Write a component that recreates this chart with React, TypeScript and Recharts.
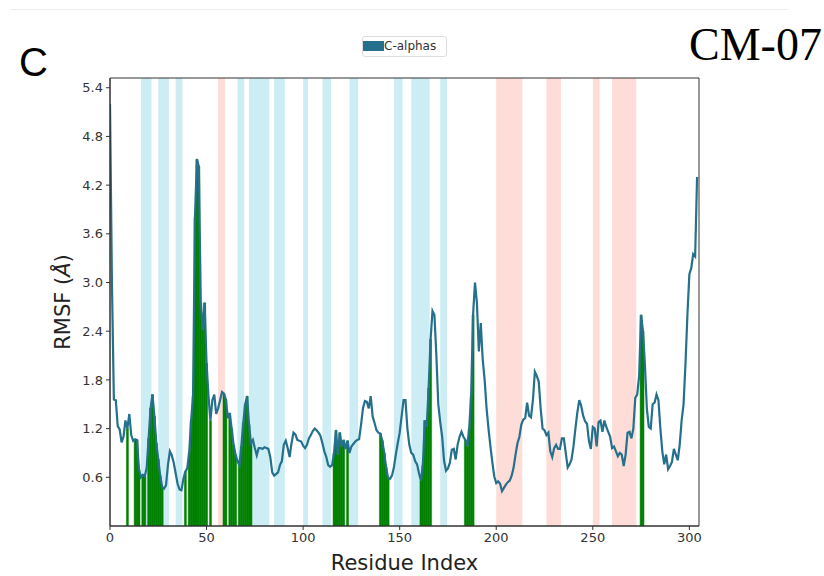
import {
  ComposedChart,
  Line,
  Bar,
  XAxis,
  YAxis,
  ReferenceArea,
} from "recharts"

// C-alpha RMSF per residue (index 0..304)
const rmsf = [
  5.2, 3.0, 1.56, 1.55, 1.23, 1.19, 1.03, 1.1, 1.3, 1.2,
  1.38, 1.12, 1.05, 1.07, 1.06, 0.7, 0.6, 0.63, 0.61, 0.72,
  1.08, 1.45, 1.62, 1.35, 1.02, 0.82, 0.62, 0.48, 0.46, 0.5,
  0.75, 0.92, 0.87, 0.78, 0.65, 0.52, 0.45, 0.44, 0.58, 0.67,
  0.71, 0.9, 1.3, 1.6, 3.8, 4.52, 4.43, 2.75, 2.42, 2.75,
  2.0, 1.6, 1.3, 1.55, 1.62, 1.38, 1.45, 1.55, 1.65, 1.63,
  1.56, 1.33, 1.39, 1.2, 1.0, 0.88, 0.8, 0.75, 0.98, 1.27,
  1.5, 1.6, 1.25, 1.02, 1.06, 0.96, 0.87, 0.96, 0.96, 0.95,
  0.97, 0.96, 0.95, 0.85, 0.66, 0.62, 0.64, 0.66, 0.75, 0.8,
  1.0, 1.05, 0.96, 0.85, 1.02, 1.15, 1.13, 1.06, 1.05, 1.04,
  0.99, 0.96, 1.0, 1.08, 1.12, 1.17, 1.2, 1.18, 1.15, 1.11,
  1.02, 0.92, 0.85, 0.75, 0.73, 0.75, 0.9, 1.18, 0.88, 1.15,
  0.98, 1.06, 0.95, 1.05, 0.9, 0.98, 1.01, 1.04, 1.06, 1.07,
  1.25, 1.45, 1.54, 1.53, 1.45, 1.6, 1.35, 1.27, 1.18, 1.15,
  1.14, 1.05, 0.9, 0.72, 0.59, 0.58, 0.62, 0.72, 0.88, 1.02,
  1.15, 1.35, 1.55, 1.55, 1.2, 1.0, 0.9, 0.88, 0.8, 0.76,
  0.65, 0.56, 0.75, 1.3, 1.22, 1.7, 2.3, 2.65, 2.6, 2.1,
  1.5, 1.28, 1.1, 0.8, 0.68, 0.71, 0.78, 0.94, 0.95, 0.82,
  1.0, 1.1, 1.16, 1.1, 1.06, 0.98, 1.2, 1.6, 2.6, 3.0,
  2.75, 2.15, 2.5, 2.05, 1.8, 1.45, 1.2, 0.98, 0.78, 0.61,
  0.53, 0.55, 0.52, 0.43, 0.47, 0.51, 0.54, 0.56, 0.62, 0.72,
  0.88, 1.02, 1.1, 1.25, 1.31, 1.33, 1.52, 1.36, 1.34, 1.55,
  1.9, 1.85, 1.78, 1.45, 1.2, 1.18, 1.12, 1.15, 0.92, 0.85,
  0.96, 1.0, 0.95, 0.95, 1.08, 1.08, 0.9, 0.72, 0.76, 0.82,
  0.98, 1.2, 1.4, 1.55, 1.48, 1.36, 1.29, 1.26, 1.05, 0.95,
  1.22, 1.2, 0.98, 1.28, 1.3, 1.16, 1.3, 1.22, 1.16, 1.1,
  0.96, 0.98, 0.92, 0.86, 0.9, 0.88, 0.74, 0.88, 1.15, 1.16,
  1.08, 1.2, 1.58, 1.62, 1.85, 2.6, 2.4, 1.98, 1.45, 1.22,
  1.2, 1.5, 1.52, 1.62, 1.55, 1.2, 0.92, 0.76, 0.88, 0.7,
  0.74, 0.79, 0.95, 0.88, 0.81, 1.0, 1.3, 1.5, 2.0, 2.6,
  3.1, 3.18, 3.35, 3.32, 4.3,
]

// residues in contact (green bars)
const contactResidues = [
  9, 13, 14, 15, 17, 18, 20, 21, 22, 23, 24, 25, 26, 27,
  39, 41, 42, 43, 44, 45, 46, 47, 48, 49, 50, 52,
  59, 60, 62, 63, 64, 65, 67, 68, 69, 70, 71, 72, 73,
  116, 117, 118, 119, 120, 121, 123,
  140, 141, 142, 143, 144,
  161, 162, 163, 164, 165, 166,
  184, 185, 186, 187, 188,
  275, 276,
]

// secondary structure spans (residue ranges)
const helixSpans = [
  [16, 21.5], [25, 30.5], [34, 37.5], [66, 69.5], [72, 82.5], [85, 90.5],
  [100, 102.5], [110, 114.5], [124, 128.5], [147, 151.5], [156, 165.5], [171, 174.5],
]
const strandSpans = [
  [56, 59.5], [200, 213.5], [226, 233.5], [250, 253.5], [260, 272.5],
]

const xTicks = [0, 50, 100, 150, 200, 250, 300]
const yTicks = [0.6, 1.2, 1.8, 2.4, 3.0, 3.6, 4.2, 4.8, 5.4]

const contactSet = new Set(contactResidues)
const tableData = rmsf.map((v, i) => ({
  residue: i,
  rmsf: v,
  contact: contactSet.has(i) ? v : null,
}))

const lineColor = "#24708d"
const tickStyle = { fontSize: 13, fill: "#333", fontFamily: "DejaVu Sans" }

export default function App() {
  return (
    <div
      style={{
        position: "absolute",
        left: 0,
        top: 0,
        width: 824,
        height: 576,
        background: "#fff",
        overflow: "hidden",
      }}
    >
      <div
        style={{
          position: "absolute",
          left: 10,
          top: 9,
          width: 778,
          height: 1,
          background: "#eeeeee",
        }}
      />
      <div
        style={{
          position: "absolute",
          left: 19,
          top: 42,
          fontFamily: "Liberation Sans",
          fontSize: 40,
          lineHeight: "40px",
          color: "#000",
        }}
      >
        C
      </div>
      <div
        style={{
          position: "absolute",
          left: 689,
          top: 22,
          fontFamily: "Liberation Serif",
          fontSize: 46,
          lineHeight: "46px",
          color: "#000",
        }}
      >
        CM-07
      </div>
      <div
        style={{
          position: "absolute",
          left: 362,
          top: 36,
          width: 83,
          height: 19,
          border: "1px solid #dddddd",
          borderRadius: 3,
          background: "#fff",
          zIndex: 2,
        }}
      >
        <div
          style={{
            position: "absolute",
            left: 0,
            top: 4,
            width: 21,
            height: 10,
            background: lineColor,
          }}
        />
        <div
          style={{
            position: "absolute",
            left: 21,
            top: 1,
            fontFamily: "DejaVu Sans",
            fontSize: 12,
            lineHeight: "16px",
            color: "#333",
          }}
        >
          C-alphas
        </div>
      </div>
      <ComposedChart
        width={824}
        height={576}
        data={tableData}
        barCategoryGap={0}
        barGap={0}
        margin={{ top: 78, right: 125, bottom: 20, left: 30 }}
      >
        {helixSpans.map(([a, b], i) => (
          <ReferenceArea
            key={`h-${i}`}
            x1={a}
            x2={b}
            fill="#ccedf4"
            fillOpacity={1}
            stroke="none"
            ifOverflow="hidden"
            zIndex={-50}
          />
        ))}
        {strandSpans.map(([a, b], i) => (
          <ReferenceArea
            key={`s-${i}`}
            x1={a}
            x2={b}
            fill="#fedcd7"
            fillOpacity={1}
            stroke="none"
            ifOverflow="hidden"
            zIndex={-50}
          />
        ))}
        <XAxis
          dataKey="residue"
          type="number"
          domain={[0, 305]}
          ticks={xTicks}
          allowDataOverflow
          height={30}
          tick={tickStyle}
          tickSize={4}
          tickMargin={3}
          stroke="#333"
          label={{
            content: ({ viewBox }: any) => (
              <text
                x={viewBox.x + viewBox.width / 2}
                y={viewBox.y + 44}
                textAnchor="middle"
                fontSize={21}
                fontFamily="DejaVu Sans"
                fill="#222"
              >
                Residue Index
              </text>
            ),
          }}
        />
        <YAxis
          type="number"
          domain={[0, 5.52]}
          ticks={yTicks}
          allowDataOverflow
          width={80}
          tick={tickStyle}
          tickSize={4}
          tickMargin={3}
          stroke="#333"
          tickFormatter={(v: number) => v.toFixed(1)}
          label={{
            content: ({ viewBox }: any) => {
              const cy = viewBox.y + viewBox.height / 2
              return (
                <text
                  x={70}
                  y={cy}
                  transform={`rotate(-90 70 ${cy})`}
                  textAnchor="middle"
                  fontSize={21}
                  fontFamily="DejaVu Sans"
                  fill="#222"
                >
                  RMSF (<tspan fontStyle="italic">Å</tspan>)
                </text>
              )
            },
          }}
        />
        <Bar
          dataKey="contact"
          fill="#008000"
          stroke="#008000"
          strokeWidth={0.5}
          isAnimationActive={false}
        />
        <Line
          type="linear"
          dataKey="rmsf"
          stroke={lineColor}
          strokeWidth={2.2}
          dot={false}
          activeDot={false}
          isAnimationActive={false}
        />
        <ReferenceArea
          x1={0}
          x2={305}
          y1={0}
          y2={5.52}
          fill="none"
          stroke="#333"
          strokeWidth={1}
          zIndex={1000}
        />
      </ComposedChart>
    </div>
  )
}
